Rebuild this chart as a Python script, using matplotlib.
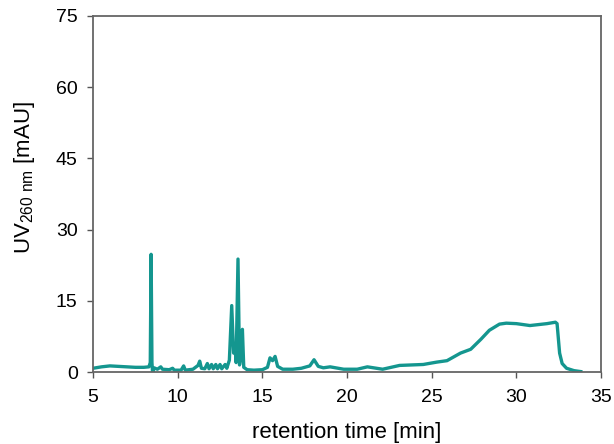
import numpy as np
import matplotlib.pyplot as plt

plt.rcParams['font.family'] = ['Liberation Sans', 'DejaVu Sans']
plt.rcParams['mathtext.fontset'] = 'custom'
plt.rcParams['mathtext.rm'] = 'Liberation Sans'

# retention time [min] and UV signal [mAU]
time = [5.0, 5.5, 6.0, 6.5, 7.0, 7.5, 8.0, 8.3, 8.38, 8.43, 8.48, 8.52, 8.6, 8.8,
        9.0, 9.1, 9.5, 9.7, 9.8, 10.2, 10.35, 10.45, 10.9, 11.2, 11.3, 11.4, 11.6,
        11.75, 11.85, 12.0, 12.1, 12.25, 12.35, 12.5, 12.6, 12.8, 12.9, 13.05,
        13.19, 13.3, 13.38, 13.45, 13.56, 13.65, 13.72, 13.82, 13.9, 14.1, 14.5,
        15.0, 15.3, 15.45, 15.6, 15.75, 15.9, 16.2, 16.8, 17.3, 17.8, 18.05, 18.3,
        18.6, 19.0, 19.8, 20.6, 21.2, 22.1, 23.1, 24.5, 25.3, 25.9, 26.7, 27.3,
        27.9, 28.4, 29.0, 29.4, 30.0, 30.8, 31.8, 32.3, 32.4, 32.55, 32.7, 32.96,
        33.4, 33.8]
uv = [0.8, 1.1, 1.3, 1.2, 1.1, 1.0, 1.0, 1.1, 2.0, 24.8, 2.0, -0.3, 0.9, 0.6,
      1.1, 0.6, 0.5, 0.8, 0.4, 0.4, 1.3, 0.4, 0.6, 1.4, 2.3, 0.8, 0.7,
      1.8, 0.7, 1.6, 0.7, 1.6, 0.7, 1.6, 0.7, 1.6, 0.8, 2.5,
      14.0, 4.0, 5.5, 2.0, 23.8, 1.5, 3.0, 9.0, 1.0, 0.5, 0.4,
      0.5, 1.0, 3.0, 2.4, 3.3, 1.2, 0.6, 0.6, 0.8, 1.3, 2.6, 1.2,
      0.9, 1.1, 0.6, 0.6, 1.1, 0.6, 1.4, 1.6, 2.1, 2.4, 4.0, 4.8,
      6.9, 8.8, 10.1, 10.3, 10.2, 9.8, 10.2, 10.5, 10.2, 4.0, 1.8, 0.8,
      0.3, 0.1]

fig = plt.figure(figsize=(6.14, 4.44), dpi=100)
ax = fig.add_axes([0.1515, 0.162, 0.8275, 0.802])
ax.plot(time, uv, color='#14968f', lw=2.4)

ax.set_xlim(5, 35)
ax.set_ylim(0, 75)
ax.set_xticks(np.arange(5, 36, 5))
ax.set_yticks(np.arange(0, 76, 15))
ax.tick_params(direction='out', length=4, width=1, color='#555555', labelsize=14)
ax.tick_params(axis='x', pad=8)
ax.tick_params(axis='y', pad=7)
for s in ax.spines.values():
    s.set_color('#666666')
    s.set_linewidth(1.3)

ax.set_xlabel('retention time [min]', fontsize=16, labelpad=12)
ax.set_ylabel(r'UV$_{\mathrm{260\ nm}}$ [mAU]', fontsize=16)
ax.yaxis.set_label_coords(-0.11, 0.545)

fig.savefig('out.png', dpi=100)
